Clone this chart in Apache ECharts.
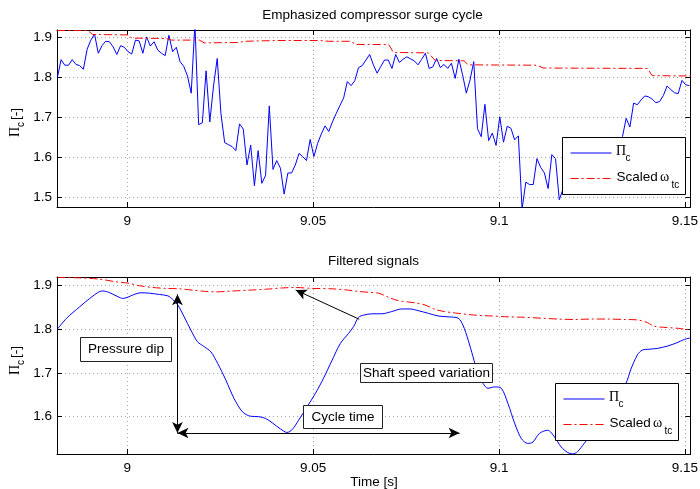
<!DOCTYPE html>
<html><head><meta charset="utf-8">
<script src="https://cdn.jsdelivr.net/npm/echarts@6/dist/echarts.min.js"></script>
<style>html,body{margin:0;padding:0;background:#fff}#c{width:700px;height:489px}</style>
</head><body><div id="c"></div>
<script>
// ---------- data ----------
const titles = ['Emphasized compressor surge cycle', 'Filtered signals'];
const xTicks = [9, 9.05, 9.1, 9.15];
const yTicksTop = [1.5, 1.6, 1.7, 1.8, 1.9];
const yTicksBottom = [1.6, 1.7, 1.8, 1.9];
const xRange = [8.9811, 9.1515];
const yRangeTop = [1.4757, 1.9193];
const yRangeBottom = [1.5148, 1.919];

// raw pressure ratio, sampled every 1 ms starting at rawT0
const rawT0 = 8.9812, rawDt = 0.001;
const rawPi = [1.800,1.845,1.831,1.831,1.845,1.833,1.830,1.821,1.871,1.894,
 1.909,1.861,1.880,1.891,1.890,1.877,1.858,1.880,1.876,1.865,
 1.859,1.894,1.892,1.861,1.902,1.879,1.890,1.869,1.861,1.855,
 1.906,1.865,1.876,1.840,1.828,1.804,1.761,1.935,1.682,1.687,
 1.817,1.689,1.779,1.848,1.710,1.637,1.632,1.627,1.617,1.684,
 1.671,1.581,1.631,1.529,1.617,1.535,1.555,1.729,1.570,1.592,
 1.573,1.508,1.561,1.561,1.581,1.610,1.602,1.592,1.645,1.602,
 1.635,1.659,1.679,1.665,1.689,1.710,1.730,1.749,1.790,1.780,
 1.792,1.825,1.830,1.844,1.858,1.832,1.811,1.828,1.844,1.844,
 1.823,1.858,1.838,1.846,1.852,1.847,1.842,1.832,1.846,1.861,
 1.823,1.827,1.848,1.825,1.833,1.823,1.836,1.798,1.846,1.807,
 1.761,1.794,1.840,1.672,1.652,1.733,1.642,1.661,1.630,1.702,
 1.638,1.678,1.673,1.644,1.654,1.470,1.538,1.532,1.532,1.597,
 1.575,1.561,1.522,1.607,1.597,1.494,1.520,1.550,1.530,1.560,
 1.580,1.550,1.570,1.600,1.580,1.610,1.590,1.620,1.600,1.630,
 1.610,1.630,1.652,1.698,1.676,1.736,1.732,1.744,1.754,1.752,
 1.746,1.737,1.740,1.755,1.779,1.770,1.762,1.760,1.793,1.782,1.780];

// raw scaled shaft speed (piecewise)
const rawOmegaT = [8.9812,8.9894,8.9907,9.0001,9.0012,9.0105,9.0119,9.0194,9.0207,9.0301,9.0314,9.0403,9.0515,9.0542,9.0601,9.0614,9.0703,9.0716,9.0810,9.0828,9.0906,9.0917,9.1104,9.1118,9.1399,9.1412,9.1515];
const rawOmegaV = [1.918,1.918,1.908,1.907,1.899,1.898,1.894,1.894,1.887,1.888,1.891,1.893,1.893,1.891,1.891,1.883,1.883,1.863,1.862,1.843,1.842,1.832,1.831,1.824,1.823,1.805,1.804];

// filtered pressure ratio
const filtPiT = [8.9812,8.9837,8.9872,8.9899,8.9926,8.9935,8.9953,8.9975,8.9988,9.0002,
 9.0015,9.0037,9.0060,9.0087,9.0109,9.0122,9.0136,9.0153,9.0171,9.0189,
 9.0207,9.0225,9.0243,9.0265,9.0287,9.0310,9.0332,9.0354,9.0372,9.0390,
 9.0412,9.0430,9.0444,9.0461,9.0484,9.0506,9.0528,9.0551,9.0573,9.0595,
 9.0609,9.0622,9.0636,9.0658,9.0685,9.0711,9.0738,9.0761,9.0783,9.0810,
 9.0836,9.0863,9.0890,9.0903,9.0917,9.0930,9.0943,9.0957,9.0970,9.0988,
 9.1006,9.1024,9.1042,9.1060,9.1077,9.1091,9.1109,9.1131,9.1149,9.1167,
 9.1185,9.1198,9.1211,9.1229,9.1256,9.1282,9.1309,9.1341,9.1354,9.1372,
 9.1385,9.1403,9.1426,9.1452,9.1479,9.1497,9.1515];
const filtPiV = [1.800,1.825,1.851,1.870,1.886,1.887,1.883,1.874,1.870,1.873,
 1.878,1.883,1.882,1.879,1.876,1.868,1.855,1.828,1.798,1.771,
 1.760,1.748,1.722,1.684,1.642,1.611,1.601,1.600,1.596,1.586,
 1.572,1.564,1.571,1.592,1.623,1.653,1.688,1.729,1.767,1.790,
 1.806,1.827,1.832,1.835,1.835,1.840,1.846,1.846,1.842,1.836,
 1.830,1.828,1.825,1.809,1.775,1.737,1.699,1.676,1.665,1.668,
 1.665,1.630,1.585,1.550,1.539,1.542,1.562,1.569,1.554,1.531,
 1.518,1.515,1.520,1.539,1.569,1.608,1.646,1.676,1.707,1.741,
 1.752,1.754,1.756,1.761,1.769,1.776,1.780];

// filtered scaled shaft speed
const filtOmegaT = [8.9812,8.9872,8.9926,8.9970,9.0002,9.0033,9.0069,9.0104,9.0140,9.0176,
 9.0211,9.0238,9.0283,9.0328,9.0372,9.0417,9.0453,9.0497,9.0551,9.0595,
 9.0622,9.0649,9.0676,9.0702,9.0729,9.0774,9.0801,9.0828,9.0854,9.0890,
 9.0935,9.0979,9.1024,9.1068,9.1113,9.1158,9.1202,9.1247,9.1291,9.1336,
 9.1372,9.1399,9.1416,9.1443,9.1479,9.1515];
const filtOmegaV = [1.918,1.917,1.914,1.908,1.905,1.899,1.895,1.893,1.892,1.889,
 1.886,1.885,1.887,1.889,1.891,1.894,1.895,1.893,1.892,1.889,
 1.886,1.884,1.882,1.873,1.865,1.860,1.855,1.845,1.840,1.836,
 1.832,1.830,1.828,1.827,1.825,1.823,1.822,1.823,1.823,1.822,
 1.821,1.815,1.807,1.804,1.802,1.798];

// annotation anchors (data coordinates)
const dipArrowT = 9.0135, dipTop = 1.8794, dipBottom = 1.5628;
const cycleY = 1.5628, cycleEndT = 9.0894;
const shaftTip = [9.0453, 1.8893], shaftTail = [9.0624, 1.8225];
const annotations = ['Pressure dip', 'Cycle time', 'Shaft speed variation'];
const legendLabels = ['Π', 'c', 'Scaled ', 'ω', 'tc'];
const yNameParts = ['Π', 'c', '[-]'];

// ---------- chart ----------
const SANS = '"Liberation Sans", Arial, Helvetica, sans-serif';
const SERIF = '"Liberation Serif", "Times New Roman", serif';
const FS = 13.5;
const BLUE = '#0000ff', RED = '#ff0000';
const DASHDOT = [8, 3, 2, 3];
const GRIDLINE = {color: '#a6a6a6', type: [1, 3], width: 1};

function xAx(grid, pos, main) {
  return {type: 'value', gridIndex: grid, position: pos, min: xRange[0], max: xRange[1],
    axisLine: {show: true, onZero: false, lineStyle: {color: '#000', width: 1}},
    axisTick: {show: true, inside: true, length: 5, customValues: xTicks, lineStyle: {color: '#000'}},
    axisLabel: {show: main, customValues: xTicks, color: '#000', fontFamily: SANS, fontSize: FS, margin: 7},
    splitLine: {show: main, lineStyle: GRIDLINE}, minorTick: {show: false}, minorSplitLine: {show: false}};
}
function yAx(grid, pos, main, range, ticks) {
  return {type: 'value', gridIndex: grid, position: pos, min: range[0], max: range[1],
    axisLine: {show: true, onZero: false, lineStyle: {color: '#000', width: 1}},
    axisTick: {show: true, inside: true, length: 5, customValues: ticks, lineStyle: {color: '#000'}},
    axisLabel: {show: main, customValues: ticks, color: '#000', fontFamily: SANS, fontSize: FS, margin: 5},
    splitLine: {show: main, lineStyle: GRIDLINE}, minorTick: {show: false}};
}
function txt(x, y, s, o) {
  o = o || {};
  return {type: 'text', x: x, y: y, z: 110, silent: true,
    style: {text: s, fontFamily: o.serif ? SERIF : SANS, fontSize: o.size || FS, fill: '#000',
      align: o.align || 'left', verticalAlign: 'middle'}};
}
function rect(x, y, w, h, stroke) {
  return {type: 'rect', z: 100, silent: true, shape: {x: x, y: y, width: w, height: h},
    style: {fill: '#fff', stroke: stroke || '#000', lineWidth: 1}};
}
function legend(x, y) {
  return [
    rect(x, y, 123, 57),
    {type: 'line', z: 105, silent: true, shape: {x1: x + 8, y1: y + 15.5, x2: x + 49, y2: y + 15.5},
      style: {stroke: BLUE, fill: null, lineWidth: 1.2}},
    txt(x + 53.5, y + 13.5, legendLabels[0], {serif: true, size: 14}),
    txt(x + 63, y + 21, legendLabels[1], {size: 10}),
    {type: 'line', z: 105, silent: true, shape: {x1: x + 8, y1: y + 41, x2: x + 49, y2: y + 41},
      style: {stroke: RED, fill: null, lineWidth: 1.2, lineDash: DASHDOT}},
    txt(x + 54, y + 40, legendLabels[2]),
    txt(x + 97.5, y + 40, legendLabels[3], {serif: true, size: 14}),
    txt(x + 109, y + 47.5, legendLabels[4], {size: 10})
  ];
}
function yName(x, y) {
  return {type: 'group', x: x, y: y, rotation: Math.PI / 2, silent: true, children: [
    {type: 'text', x: 0, y: 0, z: 110, style: {text: yNameParts[0], fontFamily: SERIF, fontSize: 14, fill: '#000', align: 'left', verticalAlign: 'middle'}},
    {type: 'text', x: 10, y: 6.5, z: 110, style: {text: yNameParts[1], fontFamily: SANS, fontSize: 10, fill: '#000', align: 'left', verticalAlign: 'middle'}},
    {type: 'text', x: 17, y: 1, z: 110, style: {text: yNameParts[2], fontFamily: SANS, fontSize: FS, fill: '#000', align: 'left', verticalAlign: 'middle'}}
  ]};
}
function tbox(x, y, w, h, s) {
  return [rect(x, y, w, h, '#222'), txt(x + w / 2, y + h / 2, s, {align: 'center'})];
}

const chart = echarts.init(document.getElementById('c'), null, {renderer: 'canvas'});
const lineBase = {type: 'line', symbol: 'none', showSymbol: false, silent: true, animation: false, emphasis: {disabled: true}};

chart.setOption({
  animation: false,
  backgroundColor: '#fff',
  grid: [
    {left: 57, top: 30, width: 633.5, height: 177, outerBoundsMode: 'none'},
    {left: 57, top: 277, width: 633.5, height: 177, outerBoundsMode: 'none'}
  ],
  xAxis: [xAx(0, 'bottom', true), xAx(0, 'top', false), xAx(1, 'bottom', true), xAx(1, 'top', false)],
  yAxis: [yAx(0, 'left', true, yRangeTop, yTicksTop), yAx(0, 'right', false, yRangeTop, yTicksTop),
          yAx(1, 'left', true, yRangeBottom, yTicksBottom), yAx(1, 'right', false, yRangeBottom, yTicksBottom)],
  series: [
    Object.assign({}, lineBase, {xAxisIndex: 0, yAxisIndex: 0, z: 3,
      data: rawPi.map((v, i) => [rawT0 + i * rawDt, v]),
      lineStyle: {color: BLUE, width: 1}, itemStyle: {color: BLUE}}),
    Object.assign({}, lineBase, {xAxisIndex: 0, yAxisIndex: 0, z: 4,
      data: rawOmegaT.map((t, i) => [t, rawOmegaV[i]]),
      lineStyle: {color: RED, width: 1, type: DASHDOT}, itemStyle: {color: RED}}),
    Object.assign({}, lineBase, {xAxisIndex: 2, yAxisIndex: 2, z: 3, smooth: 0.3,
      data: filtPiT.map((t, i) => [t, filtPiV[i]]),
      lineStyle: {color: BLUE, width: 1}, itemStyle: {color: BLUE},
      markLine: {silent: true, animation: false, symbol: ['arrow', 'arrow'], symbolSize: [8, 11],
        label: {show: false}, emphasis: {disabled: true},
        lineStyle: {color: '#000', type: 'solid', width: 1},
        data: [
          [{coord: [dipArrowT, dipTop]}, {coord: [dipArrowT, dipBottom]}],
          [{coord: [dipArrowT, cycleY]}, {coord: [cycleEndT, cycleY]}],
          [{coord: shaftTail, symbol: 'none'}, {coord: shaftTip, symbol: 'arrow'}]
        ]}}),
    Object.assign({}, lineBase, {xAxisIndex: 2, yAxisIndex: 2, z: 4, smooth: 0.3,
      data: filtOmegaT.map((t, i) => [t, filtOmegaV[i]]),
      lineStyle: {color: RED, width: 1, type: DASHDOT}, itemStyle: {color: RED}})
  ],
  graphic: [
    txt(372.5, 15.5, titles[0], {align: 'center'}),
    txt(373.5, 261.5, titles[1], {align: 'center'}),
    txt(374, 482.5, 'Time [s]', {align: 'center'}),
    yName(15, 137),
    yName(15, 375)
  ].concat(legend(562.5, 137.5), legend(555.5, 383.5),
    tbox(80.5, 337.5, 91, 24, annotations[0]),
    tbox(303.5, 405.5, 79, 23, annotations[1]),
    tbox(360.5, 363.5, 132, 19, annotations[2]))
});
</script>
</body></html>
